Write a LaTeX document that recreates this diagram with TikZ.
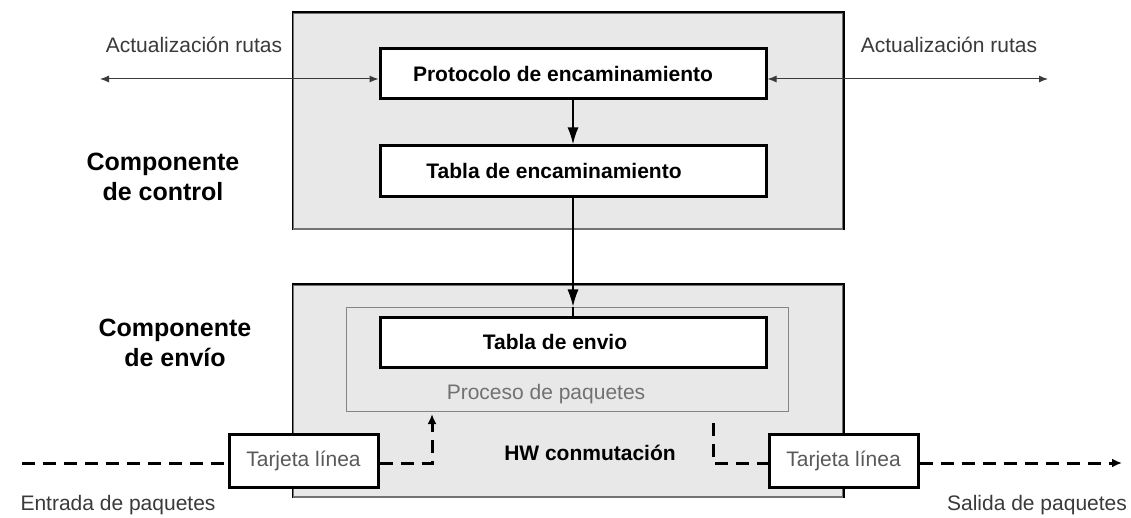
\documentclass[tikz,border=0pt]{standalone}
\usepackage{fontspec}
\setmainfont{Liberation Sans}
\usetikzlibrary{arrows.meta}
\definecolor{panel}{HTML}{E8E8E8}
\definecolor{txtgray}{HTML}{3A3A3A}
\definecolor{procgray}{HTML}{858585}
\begin{document}
\begin{tikzpicture}[x=1pt,y=-1pt,
  panelbox/.style={draw=black!55, line width=1.2pt, fill=panel, inner sep=0pt},
  panelrim/.style={draw=black, line width=1.8pt},
  whitebox/.style={draw=black, line width=3pt, fill=white, inner sep=0pt},
  procbox/.style={draw=procgray, line width=1pt, inner sep=0pt},
  boldlbl/.style={font=\fontsize{21}{25}\selectfont\bfseries, inner sep=0pt},
  plainlbl/.style={font=\fontsize{21}{25}\selectfont, text=txtgray, inner sep=0pt},
  cardlbl/.style={font=\fontsize{21}{25}\selectfont, text=black!65},
  complbl/.style={font=\fontsize{25}{30}\selectfont\bfseries, align=center, inner sep=0pt},
  upd/.style={line width=1pt, draw=txtgray, {Latex[length=9pt,width=7pt]}-{Latex[length=9pt,width=7pt]}},
  flow/.style={line width=3pt, dash pattern=on 13pt off 8pt},
  tipbig/.style={-{Latex[length=17pt,width=11pt]}},
  tipsmall/.style={-{Latex[length=10pt,width=9pt]}},
]
\path[use as bounding box, fill=white] (0,0) rectangle (1131,518);

% panels
\node[panelbox, minimum width=550, minimum height=216] (ctrl) at (568,121) {};
\draw[panelrim] (ctrl.south west) -- (ctrl.north west) -- (ctrl.north east) -- (ctrl.south east);
\node[panelbox, minimum width=550, minimum height=212] (fwd) at (568,391) {};
\draw[panelrim] (fwd.south west) -- (fwd.north west) -- (fwd.north east) -- (fwd.south east);
\node[procbox, minimum width=442, minimum height=104] (proc) at (567,359) {};

% white boxes
\node[whitebox, minimum width=386, minimum height=50] (prot) at (573,74) {};
\node[whitebox, minimum width=386, minimum height=51] (tenc) at (573,171.5) {};
\node[whitebox, minimum width=386, minimum height=50] (tenv) at (573,342) {};
\node[whitebox, cardlbl, minimum width=149, minimum height=53] (tin) at (303.5,460.5) {Tarjeta línea};
\node[whitebox, cardlbl, minimum width=149, minimum height=53] (tout) at (843.5,460.5) {Tarjeta línea};

% texts
\node[boldlbl] (tprot) at (563,74) {Protocolo de encaminamiento};
\node[boldlbl] (ttenc) at (554,171) {Tabla de encaminamiento};
\node[boldlbl] (ttenv) at (555,342) {Tabla de envio};
\node[plainlbl, text=procgray!85!black] (tproc) at (546,394) {Proceso de paquetes};
\node[boldlbl] (thw) at (590,453) {HW conmutación};
\node[complbl] (cctrl) at (163,177) {Componente\\de control};
\node[complbl] (cfwd) at (175,343) {Componente\\de envío};
\node[plainlbl] (aL) at (194,45) {Actualización rutas};
\node[plainlbl] (aR) at (949,45) {Actualización rutas};
\node[plainlbl] (ent) at (118,505) {Entrada de paquetes};
\node[plainlbl] (sal) at (1037,505) {Salida de paquetes};

% route update arrows
\coordinate (updL) at (100,79);
\coordinate (updR) at (1048,79);
\draw[upd] (updL) -- (updL -| prot.west);
\draw[upd] (prot.east |- updR) -- (updR);

% vertical arrows
\draw[line width=2pt, tipbig] (prot.south) -- (tenc.north);
\draw[line width=1.2pt, tipbig] (tenc.south) -- (tenc.south |- proc.north);
\draw[line width=1.2pt] (tenc.south |- proc.north) -- (tenv.north);

% packet flow
\coordinate (inS) at (22,463);
\coordinate (upC) at (432,463);
\coordinate (upT) at (432,414);
\coordinate (dnS) at (713,423);
\coordinate (dnC) at (713,463);
\coordinate (outE) at (1122,463);
\draw[flow] (inS) -- (inS -| tin.west);
\draw[flow, tipsmall] (tin.east |- upC) -- (upC) -- (upT);
\draw[flow] (dnS) -- (dnC) -- (dnC -| tout.west);
\draw[flow, tipsmall] (tout.east |- outE) -- (outE);
\end{tikzpicture}
\end{document}
